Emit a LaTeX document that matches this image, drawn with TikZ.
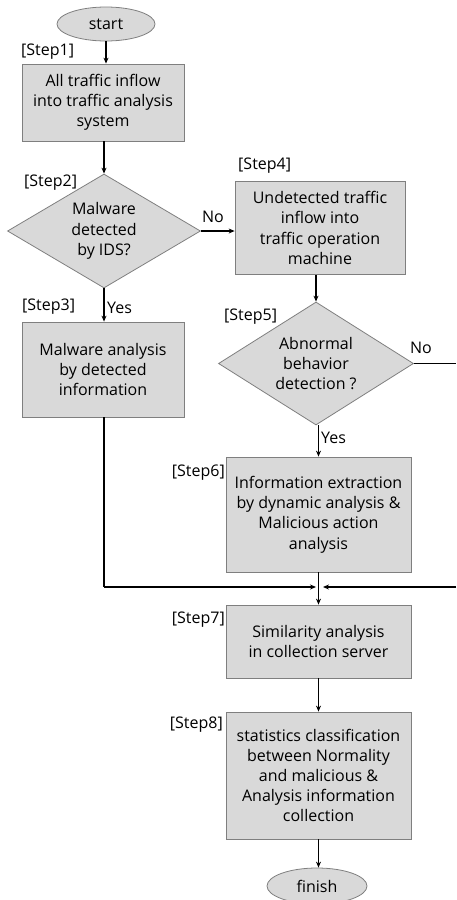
\documentclass[tikz,border=0pt]{standalone}
\usepackage{fontspec}
\setmainfont{Open Sans}
\usetikzlibrary{shapes.geometric,arrows.meta}
\definecolor{boxfill}{HTML}{D9D9D9}
\definecolor{boxline}{HTML}{7F7F7F}
\tikzset{
  x=1pt,y=-1pt,
  base/.style={fill=boxfill,draw=boxline,line width=0.8pt,align=center,inner sep=0pt,
    font=\fontsize{16}{20.2}\selectfont},
  procbox/.style={base,rectangle},
  termnode/.style={base,ellipse},
  decnode/.style={base,diamond},
  steplabel/.style={font=\fontsize{16}{18}\selectfont,inner sep=0pt},
  flow/.style={line width=1.1pt,-{Stealth[length=6pt,width=5pt]}},
  plain/.style={line width=1.1pt}
}
\begin{document}
\begin{tikzpicture}
\useasboundingbox (0,0) rectangle (456,900);
\node[termnode,minimum width=98pt,minimum height=34pt] (start) at (106,24) {start};
\node[procbox,minimum width=162pt,minimum height=77pt] (b1) at (103,102.5) {All traffic inflow\\into traffic analysis\\system};
\node[decnode,aspect=1.7,minimum width=193pt,minimum height=114pt] (d2) at (104,231) {Malware\\detected\\by IDS?};
\node[procbox,minimum width=162pt,minimum height=95pt] (b3) at (103,369.5) {Malware analysis\\by detected\\information};
\node[procbox,minimum width=170pt,minimum height=93pt] (b4) at (320,228) {Undetected traffic\\inflow into\\traffic operation\\machine};
\node[decnode,aspect=1.58,minimum width=195pt,minimum height=123pt] (d5) at (316,363.5) {Abnormal\\behavior\\detection ?};
\node[procbox,minimum width=185pt,minimum height=115pt] (b6) at (318.5,514.5) {Information extraction\\by dynamic analysis \&\\Malicious action\\analysis};
\node[procbox,minimum width=185pt,minimum height=73pt] (b7) at (318.5,641.5) {Similarity analysis\\in collection server};
\node[procbox,minimum width=185pt,minimum height=127pt] (b8) at (318.5,775.5) {statistics classification\\between Normality\\and malicious \&\\Analysis information\\collection};
\node[termnode,minimum width=100pt,minimum height=36pt] (fin) at (317,886) {finish};

\node[steplabel,anchor=west] (s1) at (21,52) {[Step1]};
\node[steplabel,anchor=west] (s2) at (24,183) {[Step2]};
\node[steplabel,anchor=west] (s3) at (22,307) {[Step3]};
\node[steplabel,anchor=west] (s4) at (238,166) {[Step4]};
\node[steplabel,anchor=west] (s5) at (224,317) {[Step5]};
\node[steplabel,anchor=east] (s6) at (225,473) {[Step6]};
\node[steplabel,anchor=east] (s7) at (225,620) {[Step7]};
\node[steplabel,anchor=east] (s8) at (223,725) {[Step8]};

\node[steplabel] (no2) at (213,217) {No};
\node[steplabel,anchor=west] (yes2) at (107,308) {Yes};
\node[steplabel] (no5) at (421,348) {No};
\node[steplabel,anchor=west] (yes5) at (321,438) {Yes};

\coordinate (j) at (318.5,587);
\coordinate (jl) at (104,587);
\coordinate (re1) at (456,363.5);
\coordinate (re2) at (456,587);

\draw[flow] (start) -- (start |- b1.north);
\draw[flow] (b1.south -| d2.north) -- (d2.north);
\draw[flow] (d2.east) -- (d2.east -| b4.west);
\draw[flow] (d2.south) -- (d2.south |- b3.north);
\draw[flow] (b4.south -| d5.north) -- (d5.north);
\draw[plain] (d5.east) -- (re1);
\draw[flow] (d5.south -| b6.north) -- (b6.north);
\draw[flow] (b6.south) -- (b7.north);
\draw[plain] (b3.south -| jl) -- (jl);
\draw[flow] (jl) -- ([xshift=-2.5pt]j);
\draw[flow] (re2) -- ([xshift=4.5pt]j);
\draw[flow] (b7.south) -- (b8.north);
\draw[flow] (b8.south) -- (b8.south |- fin.north);
\end{tikzpicture}
\end{document}
